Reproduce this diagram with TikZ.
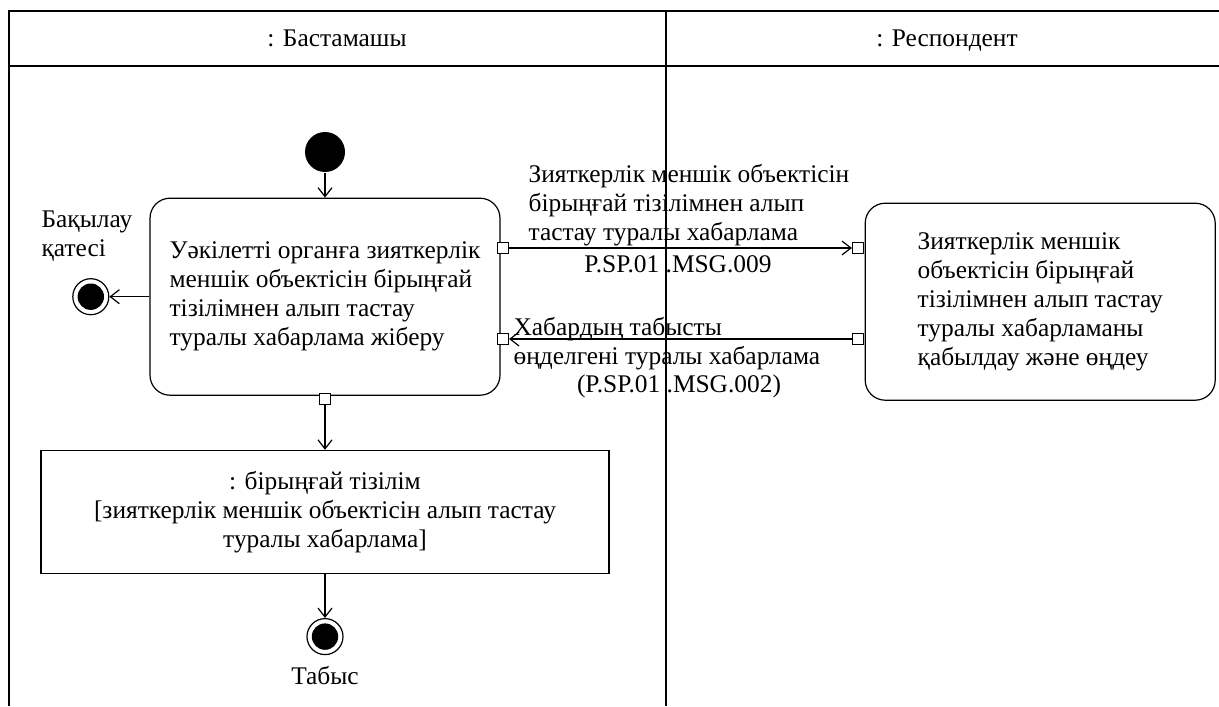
\documentclass[tikz,border=0pt]{standalone}
\usepackage{fontspec}
\setmainfont{Liberation Serif}
\usetikzlibrary{arrows.meta,positioning}

\begin{document}
\begin{tikzpicture}[x=0.5pt,y=-0.5pt,node distance=12.5pt,line width=0.6pt,>={Straight Barb[length=4.5pt,width=7pt]},
		lbl/.style={font=\fontsize{12.7}{14.5}\selectfont,inner sep=1pt},
		action/.style={lbl,draw,rounded corners=10pt,minimum width=175pt,minimum height=98.5pt,align=left},
		object/.style={lbl,draw,minimum width=284pt,minimum height=61.5pt,align=center},
		initial/.style={circle,fill=black,minimum size=20pt,inner sep=0pt},
		final/.style={circle,draw,minimum size=18pt,inner sep=0pt,
			path picture={\fill[black] (path picture bounding box.center) circle (6.6pt);}},
		port/.style={draw,fill=white,minimum size=5.5pt,inner sep=0pt},
		lane/.style={line width=1pt}]
		
		\useasboundingbox (0,0) rectangle (1219,706);
		
		% swimlanes
		\draw[lane] (9,706) -- (9,11) -- (1219,11);
		\draw[lane] (9,66) -- (1219,66);
		\draw[lane] (666,11) -- (666,706);
		\node[lbl,anchor=base] (lane1) at (337,47) {: Бастамашы};
		\node[lbl,anchor=base] (lane2) at (947,47) {: Респондент};
		
		\node[initial] (start) at (325,152) {};
		\node[action]  (send)  [below=of start] {Уәкілетті органға зияткерлік\\меншік объектісін бірыңғай\\тізілімнен алып тастау\\туралы хабарлама жіберу};
		\node[final]   (err)   [left=20pt of send] {};
		\node[lbl,align=left,anchor=west] (errlbl) at (39,236) {Бақылау\\қатесі};
		\node[action]  (recv)  [right=182pt of send,yshift=-2.5pt] {Зияткерлік меншік\\объектісін бірыңғай\\тізілімнен алып тастау\\туралы хабарламаны\\қабылдау және өңдеу};
		\node[object]  (reg)   [below=27pt of send] {: бірыңғай тізілім\\{}[зияткерлік меншік объектісін алып тастау\\туралы хабарлама]};
		\node[final]   (ok)    [below=22pt of reg] {};
		\node[lbl]     (oklbl) at (325,676) {Табыс};
		
		% pins
		\node[port] (sendout) at (503,248) {};
		\node[port] (sendin)  at (503,339) {};
		\node[port] (recvin)  at (858,248) {};
		\node[port] (recvout) at (858,339) {};
		\node[port] (regout)  at (325,399) {};
		
		% messages
		\node[lbl,align=left,anchor=west] (msg1) at (526,205) {Зияткерлік меншік объектісін\\бірыңғай тізілімнен алып\\тастау туралы хабарлама};
		\node[lbl] (msg1id) at (678,264) {P.SP.01 .MSG.009};
		\node[lbl,align=left,anchor=west] (msg2) at (511,344) {Хабардың табысты\\өңделгені туралы хабарлама};
		\node[lbl] (msg2id) at (679,386) {(P.SP.01 .MSG.002)};
		
		\draw[->] (start) -- (send);
		\draw[->] (send) -- (err);
		\draw[->] (sendout) -- (recvin);
		\draw[->] (recvout) -- (sendin);
		\draw[->] (regout) -- (reg);
		\draw[->] (reg) -- (ok);
	\end{tikzpicture}
\end{document}
